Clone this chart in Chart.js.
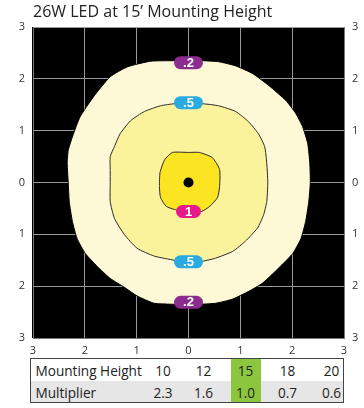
<!DOCTYPE html>
<html>
<head>
<meta charset="utf-8">
<script src="https://cdn.jsdelivr.net/npm/chart.js@4/dist/chart.umd.min.js"></script>
<style>
  html, body { margin: 0; padding: 0; background: #fff; }
  #wrap { position: relative; width: 364px; height: 408px; overflow: hidden; }
  #chart { position: absolute; left: 0; top: 0; }
  #tbl {
    position: absolute; left: 30px; top: 358px; width: 314px; height: 45px;
    box-sizing: border-box; border: 1.5px solid #444; background: #fff;
    font-family: "Open Sans", sans-serif; font-size: 13.6px; color: #222;
  }
  #tbl .row2 { position: absolute; left: 0; right: 0; top: 22px; bottom: 0; background: #e6e6e6; }
  #tbl .hl { position: absolute; top: 0; bottom: 0; background: #8cc63f; }
  #tbl .txt { position: absolute; height: 21px; line-height: 21px; white-space: nowrap; }
</style>
</head>
<body>
<div id="wrap">
  <canvas id="chart" width="364" height="358"></canvas>
  <div id="tbl"><div class="row2"></div></div>
</div>
<script>
// Iso-footcandle contours, [x, y] in mounting heights from the fixture
const contour02 = [
  [0, 2.35], [0.27, 2.35], [0.58, 2.33], [0.91, 2.25], [1.24, 2.10], [1.55, 1.87],
  [1.88, 1.58], [2.07, 1.33], [2.20, 1.08], [2.30, 0.75], [2.34, 0.37], [2.35, 0],
  [2.32, -0.37], [2.26, -0.75], [2.17, -1.08], [2.01, -1.37], [1.74, -1.65],
  [1.43, -1.94], [1.16, -2.10], [0.85, -2.25], [0.52, -2.33], [0.19, -2.35], [0, -2.35],
  [-0.27, -2.35], [-0.66, -2.33], [-0.99, -2.19], [-1.24, -2.02], [-1.51, -1.85],
  [-1.76, -1.62], [-1.99, -1.37], [-2.15, -1.08], [-2.24, -0.75], [-2.30, -0.37],
  [-2.32, 0], [-2.34, 0.37], [-2.32, 0.62], [-2.24, 0.88], [-2.09, 1.27],
  [-1.82, 1.67], [-1.51, 2.04], [-1.18, 2.23], [-0.73, 2.34], [-0.27, 2.35], [0, 2.35]
];
const contour05 = [
  [0, 1.53], [0.27, 1.52], [0.58, 1.48], [0.91, 1.37], [1.16, 1.17], [1.35, 0.94],
  [1.47, 0.69], [1.51, 0.37], [1.53, 0], [1.51, -0.37], [1.45, -0.62], [1.33, -0.88],
  [1.10, -1.13], [0.85, -1.33], [0.52, -1.46], [0.27, -1.52], [0, -1.53],
  [-0.27, -1.50], [-0.66, -1.42], [-0.99, -1.27], [-1.24, -1.00], [-1.43, -0.69],
  [-1.51, -0.37], [-1.51, 0], [-1.51, 0.23], [-1.51, 0.50], [-1.43, 0.69],
  [-1.32, 0.94], [-1.12, 1.19], [-0.85, 1.37], [-0.54, 1.48], [-0.27, 1.52], [0, 1.53]
];
const contour10 = [
  [0, 0.58], [0.21, 0.58], [0.46, 0.48], [0.60, 0.25], [0.60, -0.08], [0.56, -0.29],
  [0.41, -0.46], [0.25, -0.56], [0, -0.56], [-0.27, -0.52], [-0.43, -0.46],
  [-0.54, -0.29], [-0.56, -0.08], [-0.55, 0.19], [-0.46, 0.44], [-0.31, 0.58], [0, 0.58]
];
const levelNames = ['.2', '.5', '1'];

// Level tags along the centre line: [text, x, y]
const levelTags = [
  ['.2', 0, 2.31], ['.5', 0, 1.54], ['1', 0, -0.56], ['.5', 0, -1.53], ['.2', 0, -2.31]
];
const fixture = [[0, 0]];

const axisTicks = [-3, -2, -1, 0, 1, 2, 3];

// Mounting height multiplier table
const mountingHeights = [10, 12, 15, 18, 20];
const multipliers = ['2.3', '1.6', '1.0', '0.7', '0.6'];
const currentHeight = 15;

const levelFill = { '.2': '#fdf8d5', '.5': '#fbf39c', '1': '#fbe523' };
const tagColor = { '.2': '#8b2d8f', '.5': '#29abe2', '1': '#e8198b' };

const toPts = arr => arr.map(([x, y]) => ({ x, y }));

const plotBg = {
  id: 'plotBg',
  beforeDraw(chart) {
    const { ctx, chartArea: a } = chart;
    ctx.save();
    ctx.fillStyle = '#000';
    ctx.fillRect(a.left - 1, a.top, a.right - a.left + 1, a.bottom - a.top);
    ctx.restore();
  }
};

const marks = {
  id: 'marks',
  afterDraw(chart) {
    const { ctx } = chart;
    const xs = chart.scales.x, ys = chart.scales.y;
    ctx.save();
    // fixture position
    fixture.forEach(([x, y]) => {
      ctx.beginPath();
      ctx.arc(xs.getPixelForValue(x), ys.getPixelForValue(y), 5, 0, Math.PI * 2);
      ctx.fillStyle = '#000';
      ctx.fill();
    });
    // level tags
    ctx.font = 'bold 13px "Liberation Sans", Arial, sans-serif';
    ctx.textAlign = 'center';
    ctx.textBaseline = 'middle';
    levelTags.forEach(([t, x, y]) => {
      const px = xs.getPixelForValue(x), py = ys.getPixelForValue(y);
      const w = t.length > 1 ? 29 : 25, h = 13, r = 6.5;
      ctx.beginPath();
      ctx.roundRect(px - w / 2, py - h / 2, w, h, r);
      ctx.fillStyle = tagColor[t];
      ctx.fill();
      ctx.fillStyle = '#fff';
      ctx.fillText(t, px, py + 0.5);
    });
    ctx.restore();
  }
};

const contours = [contour02, contour05, contour10];
const datasets = contours.map((c, i) => ({
  label: levelNames[i],
  data: toPts(c),
  showLine: true,
  fill: 'shape',
  backgroundColor: levelFill[levelNames[i]],
  borderColor: i === 0 ? '#000' : '#2a2a2a',
  borderWidth: 1,
  pointRadius: 0,
  tension: 0.18,
  order: 3 - i
}));

const tickFont = { family: '"Open Sans", sans-serif', size: 11 };
const tickCb = v => String(Math.abs(v));
const gridOpts = { color: '#9b9b9b', lineWidth: 1, drawTicks: false };
const setTicks = s => { s.ticks = axisTicks.map(v => ({ value: v })); };

new Chart(document.getElementById('chart'), {
  type: 'scatter',
  data: { datasets },
  options: {
    responsive: false,
    animation: false,
    devicePixelRatio: 1,
    layout: { padding: 0 },
    plugins: {
      legend: { display: false },
      tooltip: { enabled: false },
      title: {
        display: true,
        text: '26W LED at 15\u2019 Mounting Height',
        align: 'start',
        fullSize: false,
        color: '#222',
        font: { family: '"Open Sans", sans-serif', size: 16, weight: 'normal' },
        padding: { top: 3, bottom: 4.8 }
      }
    },
    scales: {
      x: {
        type: 'linear', min: -3, max: 3, position: 'bottom', z: 1,
        afterBuildTicks: setTicks,
        ticks: { callback: tickCb, color: '#333', font: tickFont, padding: 6, maxRotation: 0 },
        grid: gridOpts,
        border: { display: true, color: '#777' },
        afterFit(s) { s.height = 20; }
      },
      y: {
        type: 'linear', min: -3, max: 3, position: 'left', z: 1,
        afterBuildTicks: setTicks,
        ticks: { callback: tickCb, color: '#333', font: tickFont, padding: 8 },
        grid: gridOpts,
        border: { display: true, color: '#777' },
        afterFit(s) { s.width = 33; }
      },
      y2: {
        type: 'linear', min: -3, max: 3, position: 'right',
        afterBuildTicks: setTicks,
        ticks: { callback: tickCb, color: '#333', font: tickFont, padding: 8 },
        grid: { display: false, drawTicks: false },
        border: { display: true, color: '#777' },
        afterFit(s) { s.width = 20; }
      }
    }
  },
  plugins: [plotBg, marks]
});

// Multiplier table beneath the plot
(function buildTable() {
  const tbl = document.getElementById('tbl');
  const left0 = 31.5; // page x of the table's inner edge
  const centers = [163.5, 204, 246, 288, 332];
  const add = (cls, text, x, y, align) => {
    const d = document.createElement('div');
    d.className = cls;
    d.textContent = text;
    d.style.top = y + 'px';
    if (align === 'center') {
      d.style.left = (x - left0 - 20) + 'px';
      d.style.width = '40px';
      d.style.textAlign = 'center';
    } else {
      d.style.left = (x - left0) + 'px';
    }
    tbl.appendChild(d);
    return d;
  };
  const hi = mountingHeights.indexOf(currentHeight);
  const hl = document.createElement('div');
  hl.className = 'hl';
  hl.style.left = (centers[hi] - 15 - left0) + 'px';
  hl.style.width = '30px';
  tbl.appendChild(hl);
  add('txt', 'Mounting Height', 36, 0.5);
  add('txt', 'Multiplier', 36, 22.5);
  mountingHeights.forEach((h, i) => add('txt', String(h), centers[i], 0.5, 'center'));
  multipliers.forEach((m, i) => add('txt', m, centers[i], 22.5, 'center'));
})();
</script>
</body>
</html>
